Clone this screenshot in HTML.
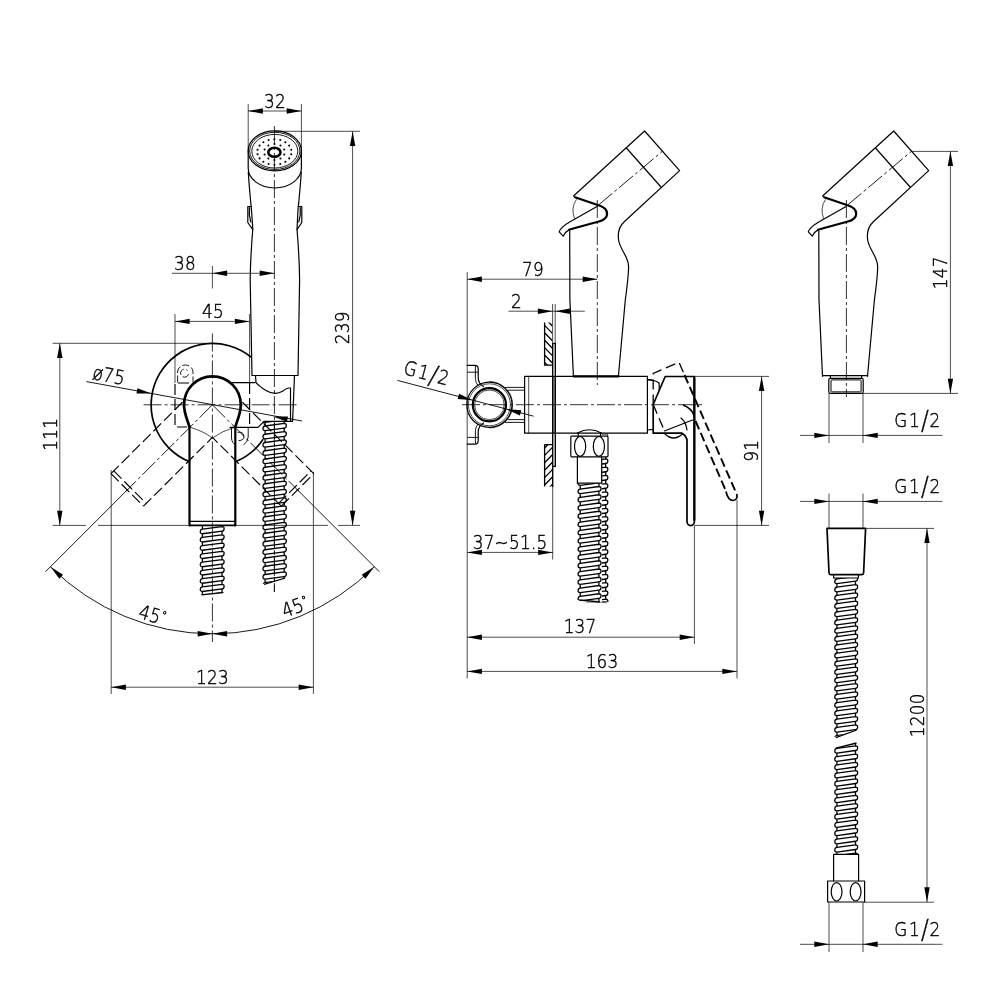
<!DOCTYPE html>
<html lang="en"><head><meta charset="utf-8"><title>Hygienic shower set - dimensional drawing</title>
<style>
html,body{margin:0;padding:0;background:#fff}
svg{display:block;will-change:transform}
text{font-family:"DejaVu Sans Light","DejaVu Sans","Liberation Sans",sans-serif;font-weight:200;font-size:19.6px;letter-spacing:.3px;fill:#000;stroke:#000;stroke-width:.45px}
.t{stroke:#000;stroke-width:.7;fill:none}
.m{stroke:#000;stroke-width:1.2;fill:none;stroke-linejoin:round;stroke-linecap:round}
.k{stroke:#000;stroke-width:2.2;fill:none;stroke-linejoin:round;stroke-linecap:round}
.k2{stroke:#000;stroke-width:2.7;fill:none;stroke-linejoin:round}
.dh{stroke:#000;stroke-width:.9;fill:none;stroke-dasharray:7 2.5}
.o{stroke:#000;stroke-width:1.7;fill:none;stroke-linejoin:round}
.d{stroke:#000;stroke-width:1.15;fill:none;stroke-dasharray:11 4}
.t2{stroke:#000;stroke-width:.9;fill:none}
.dg{font-size:12px}
.sl{font-size:27px}
.dk{stroke:#000;stroke-width:1.9;fill:none;stroke-dasharray:9 4}
.dm{stroke:#000;stroke-width:1.3;fill:none;stroke-dasharray:10 5}
.c{stroke:#000;stroke-width:.8;fill:none;stroke-dasharray:18 3 3 3}
.c2{stroke:#000;stroke-width:.9;fill:none;stroke-dasharray:18 3 3 3}
.pl{stroke:#000;stroke-width:1.35;fill:none}
.a{fill:#000;stroke:none}
.hl{stroke:#000;stroke-width:1.3;fill:none;stroke-linejoin:round}
.he{stroke:#000;stroke-width:1.3;fill:none}
.w{fill:#fff;stroke:none}
</style></head>
<body>
<svg width="1000" height="1000" viewBox="0 0 1000 1000">
<rect class="w" width="1000" height="1000"/>
<g id="front-view">
<path class="d" d="M111,473.67L183.41,401.26"/>
<path class="d" d="M143.53,506.2L212.4,437.33"/>
<path class="d" d="M111,473.67L143.53,506.2"/>
<path class="d" d="M113.76,470.91L146.29,503.44"/>
<path class="c2" d="M212.4,404.8L125.85,491.35"/>
<path class="t2" d="M127.97,489.23L45.52,571.68"/>
<path class="d" d="M313.8,473.67L241.39,401.26"/>
<path class="d" d="M281.27,506.2L212.4,437.33"/>
<path class="d" d="M281.27,506.2L313.8,473.67"/>
<path class="d" d="M278.51,503.44L311.04,470.91"/>
<path class="c2" d="M212.4,404.8L298.95,491.35"/>
<path class="t2" d="M296.83,489.23L379.28,571.68"/>
<path class="t" d="M212.4,266L212.4,288.5"/>
<path class="c" d="M212.4,333.5L212.4,642"/>
<path class="c" d="M143.6,404.8L297,404.8"/>
<path class="c" d="M274.4,126L274.4,592"/>
<clipPath id="h1"><path d="M198.3,525.4L226.1,525.4L226.1,592.6L198.3,594.8Z"/></clipPath>
<g clip-path="url(#h1)">
<path class="hl" d="M202.4,512.65L222,510.1Q224.3,510.1 224.1,512.4T222,514.7L202.4,517.25Q200.1,517.25 200.3,514.95T202.4,512.65ZM202.4,517.25V520.9M222,514.7V518.35M202.4,520.9L222,518.35Q224.3,518.35 224.1,520.65T222,522.95L202.4,525.5Q200.1,525.5 200.3,523.2T202.4,520.9ZM202.4,525.5V529.15M222,522.95V526.6M202.4,529.15L222,526.6Q224.3,526.6 224.1,528.9T222,531.2L202.4,533.75Q200.1,533.75 200.3,531.45T202.4,529.15ZM202.4,533.75V537.4M222,531.2V534.85M202.4,537.4L222,534.85Q224.3,534.85 224.1,537.15T222,539.45L202.4,542Q200.1,542 200.3,539.7T202.4,537.4ZM202.4,542V545.65M222,539.45V543.1M202.4,545.65L222,543.1Q224.3,543.1 224.1,545.4T222,547.7L202.4,550.25Q200.1,550.25 200.3,547.95T202.4,545.65ZM202.4,550.25V553.9M222,547.7V551.35M202.4,553.9L222,551.35Q224.3,551.35 224.1,553.65T222,555.95L202.4,558.5Q200.1,558.5 200.3,556.2T202.4,553.9ZM202.4,558.5V562.15M222,555.95V559.6M202.4,562.15L222,559.6Q224.3,559.6 224.1,561.9T222,564.2L202.4,566.75Q200.1,566.75 200.3,564.45T202.4,562.15ZM202.4,566.75V570.4M222,564.2V567.85M202.4,570.4L222,567.85Q224.3,567.85 224.1,570.15T222,572.45L202.4,575Q200.1,575 200.3,572.7T202.4,570.4ZM202.4,575V578.65M222,572.45V576.1M202.4,578.65L222,576.1Q224.3,576.1 224.1,578.4T222,580.7L202.4,583.25Q200.1,583.25 200.3,580.95T202.4,578.65ZM202.4,583.25V586.9M222,580.7V584.35M202.4,586.9L222,584.35Q224.3,584.35 224.1,586.65T222,588.95L202.4,591.5Q200.1,591.5 200.3,589.2T202.4,586.9ZM202.4,591.5V595.15M222,588.95V592.6M202.4,595.15L222,592.6Q224.3,592.6 224.1,594.9T222,597.2L202.4,599.75Q200.1,599.75 200.3,597.45T202.4,595.15ZM202.4,599.75V603.4M222,597.2V600.85M202.4,603.4L222,600.85Q224.3,600.85 224.1,603.15T222,605.45L202.4,608Q200.1,608 200.3,605.7T202.4,603.4ZM202.4,608V611.65M222,605.45V609.1"/>
</g>
<path class="hl" d="M201.35,594.8L223.05,592.6"/>
<path class="c" d="M274.4,421L274.4,592"/>
<clipPath id="h2"><path d="M261,421.5L288.3,421.5L288.3,578L261,584.3Z"/></clipPath>
<g clip-path="url(#h2)">
<path class="hl" d="M265.1,409.49L284.2,406.95Q286.5,406.95 286.3,409.25T284.2,411.55L265.1,414.09Q262.8,414.09 263,411.79T265.1,409.49ZM265.1,414.09V417.74M284.2,411.55V415.2M265.1,417.74L284.2,415.2Q286.5,415.2 286.3,417.5T284.2,419.8L265.1,422.34Q262.8,422.34 263,420.04T265.1,417.74ZM265.1,422.34V425.99M284.2,419.8V423.45M265.1,425.99L284.2,423.45Q286.5,423.45 286.3,425.75T284.2,428.05L265.1,430.59Q262.8,430.59 263,428.29T265.1,425.99ZM265.1,430.59V434.24M284.2,428.05V431.7M265.1,434.24L284.2,431.7Q286.5,431.7 286.3,434T284.2,436.3L265.1,438.84Q262.8,438.84 263,436.54T265.1,434.24ZM265.1,438.84V442.49M284.2,436.3V439.95M265.1,442.49L284.2,439.95Q286.5,439.95 286.3,442.25T284.2,444.55L265.1,447.09Q262.8,447.09 263,444.79T265.1,442.49ZM265.1,447.09V450.74M284.2,444.55V448.2M265.1,450.74L284.2,448.2Q286.5,448.2 286.3,450.5T284.2,452.8L265.1,455.34Q262.8,455.34 263,453.04T265.1,450.74ZM265.1,455.34V458.99M284.2,452.8V456.45M265.1,458.99L284.2,456.45Q286.5,456.45 286.3,458.75T284.2,461.05L265.1,463.59Q262.8,463.59 263,461.29T265.1,458.99ZM265.1,463.59V467.24M284.2,461.05V464.7M265.1,467.24L284.2,464.7Q286.5,464.7 286.3,467T284.2,469.3L265.1,471.84Q262.8,471.84 263,469.54T265.1,467.24ZM265.1,471.84V475.49M284.2,469.3V472.95M265.1,475.49L284.2,472.95Q286.5,472.95 286.3,475.25T284.2,477.55L265.1,480.09Q262.8,480.09 263,477.79T265.1,475.49ZM265.1,480.09V483.74M284.2,477.55V481.2M265.1,483.74L284.2,481.2Q286.5,481.2 286.3,483.5T284.2,485.8L265.1,488.34Q262.8,488.34 263,486.04T265.1,483.74ZM265.1,488.34V491.99M284.2,485.8V489.45M265.1,491.99L284.2,489.45Q286.5,489.45 286.3,491.75T284.2,494.05L265.1,496.59Q262.8,496.59 263,494.29T265.1,491.99ZM265.1,496.59V500.24M284.2,494.05V497.7M265.1,500.24L284.2,497.7Q286.5,497.7 286.3,500T284.2,502.3L265.1,504.84Q262.8,504.84 263,502.54T265.1,500.24ZM265.1,504.84V508.49M284.2,502.3V505.95M265.1,508.49L284.2,505.95Q286.5,505.95 286.3,508.25T284.2,510.55L265.1,513.09Q262.8,513.09 263,510.79T265.1,508.49ZM265.1,513.09V516.74M284.2,510.55V514.2M265.1,516.74L284.2,514.2Q286.5,514.2 286.3,516.5T284.2,518.8L265.1,521.34Q262.8,521.34 263,519.04T265.1,516.74ZM265.1,521.34V524.99M284.2,518.8V522.45M265.1,524.99L284.2,522.45Q286.5,522.45 286.3,524.75T284.2,527.05L265.1,529.59Q262.8,529.59 263,527.29T265.1,524.99ZM265.1,529.59V533.24M284.2,527.05V530.7M265.1,533.24L284.2,530.7Q286.5,530.7 286.3,533T284.2,535.3L265.1,537.84Q262.8,537.84 263,535.54T265.1,533.24ZM265.1,537.84V541.49M284.2,535.3V538.95M265.1,541.49L284.2,538.95Q286.5,538.95 286.3,541.25T284.2,543.55L265.1,546.09Q262.8,546.09 263,543.79T265.1,541.49ZM265.1,546.09V549.74M284.2,543.55V547.2M265.1,549.74L284.2,547.2Q286.5,547.2 286.3,549.5T284.2,551.8L265.1,554.34Q262.8,554.34 263,552.04T265.1,549.74ZM265.1,554.34V557.99M284.2,551.8V555.45M265.1,557.99L284.2,555.45Q286.5,555.45 286.3,557.75T284.2,560.05L265.1,562.59Q262.8,562.59 263,560.29T265.1,557.99ZM265.1,562.59V566.24M284.2,560.05V563.7M265.1,566.24L284.2,563.7Q286.5,563.7 286.3,566T284.2,568.3L265.1,570.84Q262.8,570.84 263,568.54T265.1,566.24ZM265.1,570.84V574.49M284.2,568.3V571.95M265.1,574.49L284.2,571.95Q286.5,571.95 286.3,574.25T284.2,576.55L265.1,579.09Q262.8,579.09 263,576.79T265.1,574.49ZM265.1,579.09V582.74M284.2,576.55V580.2M265.1,582.74L284.2,580.2Q286.5,580.2 286.3,582.5T284.2,584.8L265.1,587.34Q262.8,587.34 263,585.04T265.1,582.74ZM265.1,587.34V590.99M284.2,584.8V588.45M265.1,590.99L284.2,588.45Q286.5,588.45 286.3,590.75T284.2,593.05L265.1,595.59Q262.8,595.59 263,593.29T265.1,590.99ZM265.1,595.59V599.24M284.2,593.05V596.7"/>
</g>
<path class="hl" d="M264.05,584.3L285.25,578"/>
<path class="o" d="M189.5,461.8A61.4,61.4 0 1 1 251.2,357.2"/>
<path class="o" d="M263.2,439.3A61.4,61.4 0 0 1 235.3,461.8"/>
<path class="k" d="M189.5,525.4V426.5M235.3,426.5V525.4"/>
<path class="k2" d="M189.5,427.5C189,423 184,415 184,404.8A28.4,28.5 0 0 1 240.8,404.8C240.8,415 235.8,423 235.3,427.5"/>
<path class="o" d="M189.5,525.4H235.3"/>
<path class="m" d="M189.5,521.4L235.3,521.4"/>
<path class="t" d="M189.5,427Q203,431 212.4,438Q222,431 235.3,427"/>
<path class="d" d="M189,383H175V427H187"/>
<path class="m" d="M232,382.6H255"/>
<path class="d" d="M249.6,383L249.6,427"/>
<path class="m" d="M230,427.4H258L264,421.4H290.5"/>
<path class="dh" d="M177.6,382.5V372A7.7,7 0 0 1 193,372V382.5"/>
<path class="dh" d="M188.4,374.2A4,4 0 1 1 187.6,370.6"/>
<path class="t2" d="M231.5,427.5V438Q232,443.5 235.5,444.5M248.2,427.5V437Q247.6,442.5 243.5,444.8"/>
<path class="t2" d="M237.5,432.4Q243,431 244,436Q244.2,440.5 238.5,440.6"/>
<ellipse class="m" cx="274.8" cy="150.9" rx="26.6" ry="20"/>
<ellipse class="t2" cx="274.8" cy="150.9" rx="25.1" ry="18.6"/>
<ellipse class="t2" cx="274.8" cy="151.2" rx="23" ry="16.8"/>
<ellipse cx="274.4" cy="152.3" rx="6.1" ry="4.5" fill="none" stroke="#000" stroke-width="2.6"/>
<circle class="a" cx="274.4" cy="139.2" r="1.05"/>
<circle class="a" cx="280.25" cy="139.97" r="1.05"/>
<circle class="a" cx="285.39" cy="142.19" r="1.05"/>
<circle class="a" cx="289.21" cy="145.6" r="1.05"/>
<circle class="a" cx="291.24" cy="149.78" r="1.05"/>
<circle class="a" cx="291.24" cy="154.22" r="1.05"/>
<circle class="a" cx="289.21" cy="158.4" r="1.05"/>
<circle class="a" cx="285.39" cy="161.81" r="1.05"/>
<circle class="a" cx="280.25" cy="164.03" r="1.05"/>
<circle class="a" cx="274.4" cy="164.8" r="1.05"/>
<circle class="a" cx="268.55" cy="164.03" r="1.05"/>
<circle class="a" cx="263.41" cy="161.81" r="1.05"/>
<circle class="a" cx="259.59" cy="158.4" r="1.05"/>
<circle class="a" cx="257.56" cy="154.22" r="1.05"/>
<circle class="a" cx="257.56" cy="149.78" r="1.05"/>
<circle class="a" cx="259.59" cy="145.6" r="1.05"/>
<circle class="a" cx="263.41" cy="142.19" r="1.05"/>
<circle class="a" cx="268.55" cy="139.97" r="1.05"/>
<circle class="a" cx="274.4" cy="144" r="1.05"/>
<circle class="a" cx="280.45" cy="145.53" r="1.05"/>
<circle class="a" cx="284.2" cy="149.53" r="1.05"/>
<circle class="a" cx="284.2" cy="154.47" r="1.05"/>
<circle class="a" cx="280.45" cy="158.47" r="1.05"/>
<circle class="a" cx="274.4" cy="160" r="1.05"/>
<circle class="a" cx="268.35" cy="158.47" r="1.05"/>
<circle class="a" cx="264.6" cy="154.47" r="1.05"/>
<circle class="a" cx="264.6" cy="149.53" r="1.05"/>
<circle class="a" cx="268.35" cy="145.53" r="1.05"/>
<path class="m" d="M248.2,151V168A26.6,20 0 0 0 301.4,168V151"/>
<path class="m" d="M248.3,172C249,185 250.5,200 251.5,210L252.8,229C251.5,245 250.3,260 250.2,280L252,375.5H298L299.6,280C299.5,260 298.3,245 297,229L298,210C299,200 300.5,185 301.3,172"/>
<path class="m" d="M251.3,206.5H247.8V222.5L252.6,229.3M249.5,207.5Q248.6,215 250.8,222"/>
<path class="m" d="M298.2,206.5H301.8V222.5L297.2,229.3M300.2,207.5Q301,215 298.8,222"/>
<path class="m" d="M255.5,375.5L256,382.6C259,386 262,388 266,390.5Q275,396 283,391Q287,388 289,388H290.5V421.3M294.5,375.5L292.6,421.3H290.5"/>
<path class="t" d="M248.2,104L248.2,151"/>
<path class="t" d="M301.4,104L301.4,151"/>
<path class="t" d="M248.2,111L301.4,111"/>
<path class="a" d="M248.2,111L262.9,108.3L262.9,113.7Z"/>
<path class="a" d="M301.4,111L286.7,113.7L286.7,108.3Z"/>
<text transform="translate(275.1 108) scale(0.86 1)" text-anchor="middle">32</text>
<path class="t" d="M274.4,131.3L360,131.3"/>
<path class="t" d="M352.6,131.3L352.6,525.4"/>
<path class="a" d="M352.6,131.3L355.3,146L349.9,146Z"/>
<path class="a" d="M352.6,525.4L349.9,510.7L355.3,510.7Z"/>
<text transform="translate(349.1 327.8) rotate(-90) scale(0.86 1)" text-anchor="middle">239</text>
<path class="t" d="M52.6,525.4L86,525.4"/>
<path class="t" d="M98,525.4L189.5,525.4"/>
<path class="t" d="M235.3,525.4L328,525.4"/>
<path class="t" d="M338,525.4L360,525.4"/>
<path class="t" d="M52.6,343.3L205,343.3"/>
<path class="t" d="M59.8,343.3L59.8,525.4"/>
<path class="a" d="M59.8,343.3L62.5,358L57.1,358Z"/>
<path class="a" d="M59.8,525.4L57.1,510.7L62.5,510.7Z"/>
<text transform="translate(56.7 434.2) rotate(-90) scale(0.86 1)" text-anchor="middle">111</text>
<path class="t" d="M172,273.3L274.4,273.3"/>
<path class="a" d="M212.4,273.3L227.1,270.6L227.1,276Z"/>
<path class="a" d="M274.4,273.3L259.7,276L259.7,270.6Z"/>
<text transform="translate(184.9 269.5) scale(0.86 1)" text-anchor="middle">38</text>
<path class="t" d="M175,314L175,383"/>
<path class="t" d="M249.6,314L249.6,382"/>
<path class="t" d="M175,321.4L249.6,321.4"/>
<path class="a" d="M175,321.4L189.7,318.7L189.7,324.1Z"/>
<path class="a" d="M249.6,321.4L234.9,324.1L234.9,318.7Z"/>
<text transform="translate(213.1 317.8) scale(0.86 1)" text-anchor="middle">45</text>
<path class="t2" d="M86.4,381.6L302,421"/>
<path class="a" d="M151.4,393.5L136.45,393.51L137.42,388.2Z"/>
<path class="a" d="M273,416.4L287.95,416.39L286.98,421.7Z"/>
<text transform="translate(107.7 382) rotate(10.36) scale(0.86 1)" text-anchor="middle">ø75</text>
<path class="t2" d="M50.47,566.73A229,229 0 0 0 374.33,566.73"/>
<path class="a" d="M50.47,566.73L63.04,574.82L59.34,578.76Z"/>
<path class="a" d="M374.33,566.73L365.46,578.76L361.76,574.82Z"/>
<path class="a" d="M212.4,633.8L197.7,636.5L197.7,631.1Z"/>
<path class="a" d="M212.4,633.8L227.1,631.1L227.1,636.5Z"/>
<text transform="translate(150.7 621.6) rotate(16.5) scale(0.86 1)" text-anchor="middle">45<tspan class="dg" dy="-5.5">°</tspan></text>
<text transform="translate(297.6 613) rotate(-20) scale(0.86 1)" text-anchor="middle">45<tspan class="dg" dy="-5.5">°</tspan></text>
<path class="t" d="M111.2,470L111.2,694"/>
<path class="t" d="M313.4,472L313.4,694"/>
<path class="t" d="M111.2,687.2L313.4,687.2"/>
<path class="a" d="M111.2,687.2L125.9,684.5L125.9,689.9Z"/>
<path class="a" d="M313.4,687.2L298.7,689.9L298.7,684.5Z"/>
<text transform="translate(212.5 683.6) scale(0.86 1)" text-anchor="middle">123</text>
</g>
<g id="side-view">
<path class="t" d="M467.2,272L467.2,678.4"/>
<path class="t" d="M552.6,304L552.6,343.5"/>
<path class="t" d="M555.2,304L555.2,343.5"/>
<clipPath id="x132"><rect x="544.6" y="322.6" width="7.8" height="42.6"/></clipPath>
<path class="hl" clip-path="url(#x132)" d="M544.6,310.6L552.4,318.6M544.6,318L552.4,326M544.6,325.4L552.4,333.4M544.6,332.8L552.4,340.8M544.6,340.2L552.4,348.2M544.6,347.6L552.4,355.6M544.6,355L552.4,363M544.6,362.4L552.4,370.4"/>
<path class="hl" d="M544.6,322.6V365.2H552.4"/>
<clipPath id="x135"><rect x="544.6" y="444.6" width="7.8" height="41.8"/></clipPath>
<path class="hl" clip-path="url(#x135)" d="M544.6,440.6L552.4,432.6M544.6,448L552.4,440M544.6,455.4L552.4,447.4M544.6,462.8L552.4,454.8M544.6,470.2L552.4,462.2M544.6,477.6L552.4,469.6M544.6,485L552.4,477M544.6,492.4L552.4,484.4"/>
<path class="hl" d="M552.4,444.6H544.6V486.4"/>
<path class="t" d="M552.7,486L552.7,559.6"/>
<path class="pl" d="M552.7,343.5V487M555.3,343.5V466.4H552.7"/>
<path class="hl" d="M552.2,343.5L556,343.5"/>
<path class="m" d="M467.2,365.4H475Q478.2,365.4 478.2,369V378Q478.4,383.5 483.5,386.5"/>
<path class="m" d="M467.2,444.2H475Q478.2,444.2 478.2,440.6V431.6Q478.4,426 483.5,423"/>
<path class="t2" d="M467.2,372.2H478M475.4,366V378.5Q475.6,383 478,385.4M467.2,437.4H478M475.4,443.6V431.1Q475.6,426.6 478,424.2"/>
<circle class="m" cx="489.4" cy="404.8" r="22.6"/>
<path class="t" d="M489.4,381.6A23.2,23.2 0 0 1 489.4,428"/>
<circle class="t" cx="489.4" cy="404.8" r="21"/>
<circle class="k" cx="489.4" cy="404.8" r="16.6"/>
<circle class="t" cx="489.4" cy="404.8" r="14.8"/>
<path class="t2" d="M505,387.4H524.6M507.5,390.2H524.6M507.5,419.6H524.6M505,422.4H524.6"/>
<path class="m" d="M524.6,376.3H647.4V433.2H524.6Z"/>
<path class="t" d="M528.7,376.3L528.7,433.2"/>
<path class="pl" d="M552.7,376V434M555.3,376V434"/>
<path class="c" d="M462,404.7L703,404.7"/>
<g transform="translate(0 0)">
<path class="m" d="M573.5,196L644.6,131L679.6,170.6L624.5,221.5C619.5,226 617.6,233 618.6,240C620,250 628.6,256 628.6,267C628.2,280 626.6,290 625.3,300L618.4,376.3"/>
<path class="m" d="M626.4,148L661,187"/>
<path class="m" d="M569.7,231L569.9,300L573.4,376.3"/>
<path class="t" d="M576.5,199.3Q570.5,208 574.6,218.8"/>
<path class="m" d="M597,206.6L570.5,221.6Q561,227 559.2,231.8L563.2,236.2Q565.5,231.5 569.2,229.6"/>
<path class="k" d="M575,197.2L597,204.8C603.5,206.5 607.2,209.5 607.1,214C607,218.5 603,220.6 598,221.8L575,228L569,229.7"/>
<path class="c" d="M597.3,200L597.3,385"/>
<path class="c2" d="M598.5,205L662.5,151.2"/>
</g>
<path class="k" d="M573.6,376.3H618.6"/>
<clipPath id="h3"><path d="M583,457.1L609.8,457.1L609.8,602L583,602Z"/></clipPath>
<g clip-path="url(#h3)">
<path class="hl" d="M587.1,444.93L605.7,442.4Q608,442.4 607.8,444.7T605.7,447L587.1,449.53Q584.8,449.53 585,447.23T587.1,444.93ZM587.1,449.53V453.18M605.7,447V450.65M587.1,453.18L605.7,450.65Q608,450.65 607.8,452.95T605.7,455.25L587.1,457.78Q584.8,457.78 585,455.48T587.1,453.18ZM587.1,457.78V461.43M605.7,455.25V458.9M587.1,461.43L605.7,458.9Q608,458.9 607.8,461.2T605.7,463.5L587.1,466.03Q584.8,466.03 585,463.73T587.1,461.43ZM587.1,466.03V469.68M605.7,463.5V467.15M587.1,469.68L605.7,467.15Q608,467.15 607.8,469.45T605.7,471.75L587.1,474.28Q584.8,474.28 585,471.98T587.1,469.68ZM587.1,474.28V477.93M605.7,471.75V475.4M587.1,477.93L605.7,475.4Q608,475.4 607.8,477.7T605.7,480L587.1,482.53Q584.8,482.53 585,480.23T587.1,477.93ZM587.1,482.53V486.18M605.7,480V483.65M587.1,486.18L605.7,483.65Q608,483.65 607.8,485.95T605.7,488.25L587.1,490.78Q584.8,490.78 585,488.48T587.1,486.18ZM587.1,490.78V494.43M605.7,488.25V491.9M587.1,494.43L605.7,491.9Q608,491.9 607.8,494.2T605.7,496.5L587.1,499.03Q584.8,499.03 585,496.73T587.1,494.43ZM587.1,499.03V502.68M605.7,496.5V500.15M587.1,502.68L605.7,500.15Q608,500.15 607.8,502.45T605.7,504.75L587.1,507.28Q584.8,507.28 585,504.98T587.1,502.68ZM587.1,507.28V510.93M605.7,504.75V508.4M587.1,510.93L605.7,508.4Q608,508.4 607.8,510.7T605.7,513L587.1,515.53Q584.8,515.53 585,513.23T587.1,510.93ZM587.1,515.53V519.18M605.7,513V516.65M587.1,519.18L605.7,516.65Q608,516.65 607.8,518.95T605.7,521.25L587.1,523.78Q584.8,523.78 585,521.48T587.1,519.18ZM587.1,523.78V527.43M605.7,521.25V524.9M587.1,527.43L605.7,524.9Q608,524.9 607.8,527.2T605.7,529.5L587.1,532.03Q584.8,532.03 585,529.73T587.1,527.43ZM587.1,532.03V535.68M605.7,529.5V533.15M587.1,535.68L605.7,533.15Q608,533.15 607.8,535.45T605.7,537.75L587.1,540.28Q584.8,540.28 585,537.98T587.1,535.68ZM587.1,540.28V543.93M605.7,537.75V541.4M587.1,543.93L605.7,541.4Q608,541.4 607.8,543.7T605.7,546L587.1,548.53Q584.8,548.53 585,546.23T587.1,543.93ZM587.1,548.53V552.18M605.7,546V549.65M587.1,552.18L605.7,549.65Q608,549.65 607.8,551.95T605.7,554.25L587.1,556.78Q584.8,556.78 585,554.48T587.1,552.18ZM587.1,556.78V560.43M605.7,554.25V557.9M587.1,560.43L605.7,557.9Q608,557.9 607.8,560.2T605.7,562.5L587.1,565.03Q584.8,565.03 585,562.73T587.1,560.43ZM587.1,565.03V568.68M605.7,562.5V566.15M587.1,568.68L605.7,566.15Q608,566.15 607.8,568.45T605.7,570.75L587.1,573.28Q584.8,573.28 585,570.98T587.1,568.68ZM587.1,573.28V576.93M605.7,570.75V574.4M587.1,576.93L605.7,574.4Q608,574.4 607.8,576.7T605.7,579L587.1,581.53Q584.8,581.53 585,579.23T587.1,576.93ZM587.1,581.53V585.18M605.7,579V582.65M587.1,585.18L605.7,582.65Q608,582.65 607.8,584.95T605.7,587.25L587.1,589.78Q584.8,589.78 585,587.48T587.1,585.18ZM587.1,589.78V593.43M605.7,587.25V590.9M587.1,593.43L605.7,590.9Q608,590.9 607.8,593.2T605.7,595.5L587.1,598.03Q584.8,598.03 585,595.73T587.1,593.43ZM587.1,598.03V601.68M605.7,595.5V599.15M587.1,601.68L605.7,599.15Q608,599.15 607.8,601.45T605.7,603.75L587.1,606.28Q584.8,606.28 585,603.98T587.1,601.68ZM587.1,606.28V609.93M605.7,603.75V607.4M587.1,609.93L605.7,607.4Q608,607.4 607.8,609.7T605.7,612L587.1,614.53Q584.8,614.53 585,612.23T587.1,609.93ZM587.1,614.53V618.18M605.7,612V615.65"/>
</g>
<path class="hl" d="M586.05,602L606.75,602"/>
<path class="w" d="M576.6,456H601.9V602.6H576.6Z"/>
<path class="m" d="M577.4,456.8V483.2H601.7V456.8"/>
<clipPath id="h4"><path d="M576.1,483.2L603,483.2L603,602L576.1,600Z"/></clipPath>
<g clip-path="url(#h4)">
<path class="hl" d="M580.2,472.53L598.9,470Q601.2,470 601,472.3T598.9,474.6L580.2,477.13Q577.9,477.13 578.1,474.83T580.2,472.53ZM580.2,477.13V480.78M598.9,474.6V478.25M580.2,480.78L598.9,478.25Q601.2,478.25 601,480.55T598.9,482.85L580.2,485.38Q577.9,485.38 578.1,483.08T580.2,480.78ZM580.2,485.38V489.03M598.9,482.85V486.5M580.2,489.03L598.9,486.5Q601.2,486.5 601,488.8T598.9,491.1L580.2,493.63Q577.9,493.63 578.1,491.33T580.2,489.03ZM580.2,493.63V497.28M598.9,491.1V494.75M580.2,497.28L598.9,494.75Q601.2,494.75 601,497.05T598.9,499.35L580.2,501.88Q577.9,501.88 578.1,499.58T580.2,497.28ZM580.2,501.88V505.53M598.9,499.35V503M580.2,505.53L598.9,503Q601.2,503 601,505.3T598.9,507.6L580.2,510.13Q577.9,510.13 578.1,507.83T580.2,505.53ZM580.2,510.13V513.78M598.9,507.6V511.25M580.2,513.78L598.9,511.25Q601.2,511.25 601,513.55T598.9,515.85L580.2,518.38Q577.9,518.38 578.1,516.08T580.2,513.78ZM580.2,518.38V522.03M598.9,515.85V519.5M580.2,522.03L598.9,519.5Q601.2,519.5 601,521.8T598.9,524.1L580.2,526.63Q577.9,526.63 578.1,524.33T580.2,522.03ZM580.2,526.63V530.28M598.9,524.1V527.75M580.2,530.28L598.9,527.75Q601.2,527.75 601,530.05T598.9,532.35L580.2,534.88Q577.9,534.88 578.1,532.58T580.2,530.28ZM580.2,534.88V538.53M598.9,532.35V536M580.2,538.53L598.9,536Q601.2,536 601,538.3T598.9,540.6L580.2,543.13Q577.9,543.13 578.1,540.83T580.2,538.53ZM580.2,543.13V546.78M598.9,540.6V544.25M580.2,546.78L598.9,544.25Q601.2,544.25 601,546.55T598.9,548.85L580.2,551.38Q577.9,551.38 578.1,549.08T580.2,546.78ZM580.2,551.38V555.03M598.9,548.85V552.5M580.2,555.03L598.9,552.5Q601.2,552.5 601,554.8T598.9,557.1L580.2,559.63Q577.9,559.63 578.1,557.33T580.2,555.03ZM580.2,559.63V563.28M598.9,557.1V560.75M580.2,563.28L598.9,560.75Q601.2,560.75 601,563.05T598.9,565.35L580.2,567.88Q577.9,567.88 578.1,565.58T580.2,563.28ZM580.2,567.88V571.53M598.9,565.35V569M580.2,571.53L598.9,569Q601.2,569 601,571.3T598.9,573.6L580.2,576.13Q577.9,576.13 578.1,573.83T580.2,571.53ZM580.2,576.13V579.78M598.9,573.6V577.25M580.2,579.78L598.9,577.25Q601.2,577.25 601,579.55T598.9,581.85L580.2,584.38Q577.9,584.38 578.1,582.08T580.2,579.78ZM580.2,584.38V588.03M598.9,581.85V585.5M580.2,588.03L598.9,585.5Q601.2,585.5 601,587.8T598.9,590.1L580.2,592.63Q577.9,592.63 578.1,590.33T580.2,588.03ZM580.2,592.63V596.28M598.9,590.1V593.75M580.2,596.28L598.9,593.75Q601.2,593.75 601,596.05T598.9,598.35L580.2,600.88Q577.9,600.88 578.1,598.58T580.2,596.28ZM580.2,600.88V604.53M598.9,598.35V602M580.2,604.53L598.9,602Q601.2,602 601,604.3T598.9,606.6L580.2,609.13Q577.9,609.13 578.1,606.83T580.2,604.53ZM580.2,609.13V612.78M598.9,606.6V610.25"/>
</g>
<path class="hl" d="M579.15,600L599.95,602"/>
<path class="m" d="M577.4,433.1Q589.4,426.4 601.4,433.1M578.3,433.4V436M600.5,433.4V436"/>
<path class="t" d="M601.6,434.2H607.6V436"/>
<rect class="m" x="570.8" y="436.1" width="37.2" height="20.7" rx="1"/>
<ellipse class="m" cx="580.1" cy="446.4" rx="5.6" ry="9.9"/>
<ellipse class="m" cx="598.9" cy="446.4" rx="5.6" ry="9.9"/>
<path class="m" d="M647.4,379.6L653.2,380.4M647.4,430L653.2,429.4"/>
<path class="m" d="M647.6,379.6Q655.5,380 659.2,383.2V390.5"/>
<path class="o" d="M653.2,404.5V433.2H682C685,435 687,437 687,441V521.6A3.7,4 0 0 0 694.4,521.6V376.5H665.2L653.2,404.5"/>
<path class="k" d="M694.3,378L694.3,520"/>
<path class="o" d="M683,405Q691.5,408 694.2,416"/>
<path class="m" d="M681,418Q686,422 687,430"/>
<path class="m" d="M664.5,431L692.5,420"/>
<path class="m" d="M665,434Q673.5,442 682.5,434"/>
<path class="dm" d="M653.2,404.5V373.5L679,362.2L684.5,375"/>
<path class="dm" d="M653.2,404.5L664.5,431"/>
<path class="dk" d="M684.5,375L736.8,494.4"/>
<path class="dk" d="M695.5,421L726.2,491.6"/>
<path class="o" d="M726,491.5Q728,500.5 733,500.5Q738,500 736.8,494"/>
<path class="t" d="M467.2,279.2L597.4,279.2"/>
<path class="a" d="M467.2,279.2L481.9,276.5L481.9,281.9Z"/>
<path class="a" d="M597.4,279.2L582.7,281.9L582.7,276.5Z"/>
<text transform="translate(533.1 275.8) scale(0.86 1)" text-anchor="middle">79</text>
<path class="t" d="M508.5,311.2L584.8,311.2"/>
<path class="a" d="M552.6,311.2L537.9,313.9L537.9,308.5Z"/>
<path class="a" d="M555.2,311.2L569.9,308.5L569.9,313.9Z"/>
<text transform="translate(516.5 307.8) scale(0.86 1)" text-anchor="middle">2</text>
<path class="t2" d="M397.4,380.4L533.6,416.2"/>
<path class="a" d="M472.6,400.2L457.7,399.07L459.07,393.85Z"/>
<path class="a" d="M506.4,409.2L521.3,410.33L519.93,415.55Z"/>
<text transform="translate(424.8 379.6) rotate(14.73) scale(0.86 1)" text-anchor="middle">G<tspan dx="1.6">1</tspan><tspan class="sl" dx="1.2" dy="2.8">/</tspan><tspan dx="0.6" dy="-2.8">2</tspan></text>
<path class="t" d="M467.2,552.4L553,552.4"/>
<path class="a" d="M467.2,552.4L481.9,549.7L481.9,555.1Z"/>
<path class="a" d="M552.8,552.4L538.1,555.1L538.1,549.7Z"/>
<text transform="translate(510.1 548.8) scale(0.86 1)" text-anchor="middle">37~51.5</text>
<path class="t" d="M694.4,525.4L694.4,644"/>
<path class="t" d="M467.2,637.2L694.4,637.2"/>
<path class="a" d="M467.2,637.2L481.9,634.5L481.9,639.9Z"/>
<path class="a" d="M694.4,637.2L679.7,639.9L679.7,634.5Z"/>
<text transform="translate(580.1 633.4) scale(0.86 1)" text-anchor="middle">137</text>
<path class="t" d="M737,500L737,678.4"/>
<path class="t" d="M467.2,671.4L737,671.4"/>
<path class="a" d="M467.2,671.4L481.9,668.7L481.9,674.1Z"/>
<path class="a" d="M737,671.4L722.3,674.1L722.3,668.7Z"/>
<text transform="translate(602.1 667.5) scale(0.86 1)" text-anchor="middle">163</text>
<path class="t" d="M694.4,376.4L769,376.4"/>
<path class="t" d="M694.4,525.4L769,525.4"/>
<path class="t" d="M761.6,376.4L761.6,525.4"/>
<path class="a" d="M761.6,376.4L764.3,391.1L758.9,391.1Z"/>
<path class="a" d="M761.6,525.4L758.9,510.7L764.3,510.7Z"/>
<text transform="translate(758.3 450.8) rotate(-90) scale(0.86 1)" text-anchor="middle">91</text>
</g>
<g id="parts">
<g transform="translate(249.1 0)">
<path class="m" d="M573.5,196L644.6,131L679.6,170.6L624.5,221.5C619.5,226 617.6,233 618.6,240C620,250 628.6,256 628.6,267C628.2,280 626.6,290 625.3,300L618.4,376.3"/>
<path class="m" d="M626.4,148L661,187"/>
<path class="m" d="M569.7,231L569.9,300L573.4,376.3"/>
<path class="t" d="M576.5,199.3Q570.5,208 574.6,218.8"/>
<path class="m" d="M597,206.6L570.5,221.6Q561,227 559.2,231.8L563.2,236.2Q565.5,231.5 569.2,229.6"/>
<path class="k" d="M575,197.2L597,204.8C603.5,206.5 607.2,209.5 607.1,214C607,218.5 603,220.6 598,221.8L575,228L569,229.7"/>
<path class="c" d="M597.3,200L597.3,397"/>
<path class="c2" d="M598.5,205L662.5,151.2"/>
</g>
<path class="m" d="M822.7,375.7H867.7"/>
<path class="m" d="M830.4,375.6V378.4M861.6,375.6V378.4"/>
<rect class="m" x="828.8" y="378.4" width="34.4" height="15" rx="1.6"/>
<rect class="hl" x="831" y="379.9" width="30.1" height="12" rx="0.6" style="stroke-width:1"/>
<path class="t" d="M911,151.4L958,151.4"/>
<path class="t" d="M863,393.4L958,393.4"/>
<path class="t" d="M950.4,151.4L950.4,393.4"/>
<path class="a" d="M950.4,151.4L953.1,166.1L947.7,166.1Z"/>
<path class="a" d="M950.4,393.4L947.7,378.7L953.1,378.7Z"/>
<text transform="translate(947.1 272.8) rotate(-90) scale(0.86 1)" text-anchor="middle">147</text>
<path class="t" d="M829,393.4L829,443"/>
<path class="t" d="M863,393.4L863,443"/>
<path class="t" d="M800,435.4L942.4,435.4"/>
<path class="a" d="M829,435.4L814.3,438.1L814.3,432.7Z"/>
<path class="a" d="M863,435.4L877.7,432.7L877.7,438.1Z"/>
<text transform="translate(917.4 427.2) scale(0.86 1)" text-anchor="middle">G<tspan dx="1.6">1</tspan><tspan class="sl" dx="1.2" dy="2.8">/</tspan><tspan dx="0.6" dy="-2.8">2</tspan></text>
<path class="t" d="M829,493.6L829,528"/>
<path class="t" d="M863,493.6L863,528"/>
<path class="t" d="M800,501.4L942.4,501.4"/>
<path class="a" d="M829,501.4L814.3,504.1L814.3,498.7Z"/>
<path class="a" d="M863,501.4L877.7,498.7L877.7,504.1Z"/>
<text transform="translate(917.4 492.8) scale(0.86 1)" text-anchor="middle">G<tspan dx="1.6">1</tspan><tspan class="sl" dx="1.2" dy="2.8">/</tspan><tspan dx="0.6" dy="-2.8">2</tspan></text>
<path class="t" d="M829,902.2L829,952"/>
<path class="t" d="M863,902.2L863,952"/>
<path class="t" d="M800,944.3L942.4,944.3"/>
<path class="a" d="M829,944.3L814.3,947L814.3,941.6Z"/>
<path class="a" d="M863,944.3L877.7,941.6L877.7,947Z"/>
<text transform="translate(917.4 936.4) scale(0.86 1)" text-anchor="middle">G<tspan dx="1.6">1</tspan><tspan class="sl" dx="1.2" dy="2.8">/</tspan><tspan dx="0.6" dy="-2.8">2</tspan></text>
<clipPath id="h5"><path d="M832.8,578L859.6,578L859.6,730L832.8,737.6Z"/></clipPath>
<g clip-path="url(#h5)">
<path class="hl" d="M836.9,570.73L855.5,568.2Q857.8,568.2 857.6,570.5T855.5,572.8L836.9,575.33Q834.6,575.33 834.8,573.03T836.9,570.73ZM836.9,575.33V578.98M855.5,572.8V576.45M836.9,578.98L855.5,576.45Q857.8,576.45 857.6,578.75T855.5,581.05L836.9,583.58Q834.6,583.58 834.8,581.28T836.9,578.98ZM836.9,583.58V587.23M855.5,581.05V584.7M836.9,587.23L855.5,584.7Q857.8,584.7 857.6,587T855.5,589.3L836.9,591.83Q834.6,591.83 834.8,589.53T836.9,587.23ZM836.9,591.83V595.48M855.5,589.3V592.95M836.9,595.48L855.5,592.95Q857.8,592.95 857.6,595.25T855.5,597.55L836.9,600.08Q834.6,600.08 834.8,597.78T836.9,595.48ZM836.9,600.08V603.73M855.5,597.55V601.2M836.9,603.73L855.5,601.2Q857.8,601.2 857.6,603.5T855.5,605.8L836.9,608.33Q834.6,608.33 834.8,606.03T836.9,603.73ZM836.9,608.33V611.98M855.5,605.8V609.45M836.9,611.98L855.5,609.45Q857.8,609.45 857.6,611.75T855.5,614.05L836.9,616.58Q834.6,616.58 834.8,614.28T836.9,611.98ZM836.9,616.58V620.23M855.5,614.05V617.7M836.9,620.23L855.5,617.7Q857.8,617.7 857.6,620T855.5,622.3L836.9,624.83Q834.6,624.83 834.8,622.53T836.9,620.23ZM836.9,624.83V628.48M855.5,622.3V625.95M836.9,628.48L855.5,625.95Q857.8,625.95 857.6,628.25T855.5,630.55L836.9,633.08Q834.6,633.08 834.8,630.78T836.9,628.48ZM836.9,633.08V636.73M855.5,630.55V634.2M836.9,636.73L855.5,634.2Q857.8,634.2 857.6,636.5T855.5,638.8L836.9,641.33Q834.6,641.33 834.8,639.03T836.9,636.73ZM836.9,641.33V644.98M855.5,638.8V642.45M836.9,644.98L855.5,642.45Q857.8,642.45 857.6,644.75T855.5,647.05L836.9,649.58Q834.6,649.58 834.8,647.28T836.9,644.98ZM836.9,649.58V653.23M855.5,647.05V650.7M836.9,653.23L855.5,650.7Q857.8,650.7 857.6,653T855.5,655.3L836.9,657.83Q834.6,657.83 834.8,655.53T836.9,653.23ZM836.9,657.83V661.48M855.5,655.3V658.95M836.9,661.48L855.5,658.95Q857.8,658.95 857.6,661.25T855.5,663.55L836.9,666.08Q834.6,666.08 834.8,663.78T836.9,661.48ZM836.9,666.08V669.73M855.5,663.55V667.2M836.9,669.73L855.5,667.2Q857.8,667.2 857.6,669.5T855.5,671.8L836.9,674.33Q834.6,674.33 834.8,672.03T836.9,669.73ZM836.9,674.33V677.98M855.5,671.8V675.45M836.9,677.98L855.5,675.45Q857.8,675.45 857.6,677.75T855.5,680.05L836.9,682.58Q834.6,682.58 834.8,680.28T836.9,677.98ZM836.9,682.58V686.23M855.5,680.05V683.7M836.9,686.23L855.5,683.7Q857.8,683.7 857.6,686T855.5,688.3L836.9,690.83Q834.6,690.83 834.8,688.53T836.9,686.23ZM836.9,690.83V694.48M855.5,688.3V691.95M836.9,694.48L855.5,691.95Q857.8,691.95 857.6,694.25T855.5,696.55L836.9,699.08Q834.6,699.08 834.8,696.78T836.9,694.48ZM836.9,699.08V702.73M855.5,696.55V700.2M836.9,702.73L855.5,700.2Q857.8,700.2 857.6,702.5T855.5,704.8L836.9,707.33Q834.6,707.33 834.8,705.03T836.9,702.73ZM836.9,707.33V710.98M855.5,704.8V708.45M836.9,710.98L855.5,708.45Q857.8,708.45 857.6,710.75T855.5,713.05L836.9,715.58Q834.6,715.58 834.8,713.28T836.9,710.98ZM836.9,715.58V719.23M855.5,713.05V716.7M836.9,719.23L855.5,716.7Q857.8,716.7 857.6,719T855.5,721.3L836.9,723.83Q834.6,723.83 834.8,721.53T836.9,719.23ZM836.9,723.83V727.48M855.5,721.3V724.95M836.9,727.48L855.5,724.95Q857.8,724.95 857.6,727.25T855.5,729.55L836.9,732.08Q834.6,732.08 834.8,729.78T836.9,727.48ZM836.9,732.08V735.73M855.5,729.55V733.2M836.9,735.73L855.5,733.2Q857.8,733.2 857.6,735.5T855.5,737.8L836.9,740.33Q834.6,740.33 834.8,738.03T836.9,735.73ZM836.9,740.33V743.98M855.5,737.8V741.45M836.9,743.98L855.5,741.45Q857.8,741.45 857.6,743.75T855.5,746.05L836.9,748.58Q834.6,748.58 834.8,746.28T836.9,743.98ZM836.9,748.58V752.23M855.5,746.05V749.7"/>
</g>
<path class="hl" d="M835.85,737.6L856.55,730"/>
<clipPath id="h6"><path d="M832.8,748.2L859.6,743L859.6,854.4L832.8,854.4Z"/></clipPath>
<g clip-path="url(#h6)">
<path class="hl" d="M836.9,731.93L855.5,729.4Q857.8,729.4 857.6,731.7T855.5,734L836.9,736.53Q834.6,736.53 834.8,734.23T836.9,731.93ZM836.9,736.53V740.18M855.5,734V737.65M836.9,740.18L855.5,737.65Q857.8,737.65 857.6,739.95T855.5,742.25L836.9,744.78Q834.6,744.78 834.8,742.48T836.9,740.18ZM836.9,744.78V748.43M855.5,742.25V745.9M836.9,748.43L855.5,745.9Q857.8,745.9 857.6,748.2T855.5,750.5L836.9,753.03Q834.6,753.03 834.8,750.73T836.9,748.43ZM836.9,753.03V756.68M855.5,750.5V754.15M836.9,756.68L855.5,754.15Q857.8,754.15 857.6,756.45T855.5,758.75L836.9,761.28Q834.6,761.28 834.8,758.98T836.9,756.68ZM836.9,761.28V764.93M855.5,758.75V762.4M836.9,764.93L855.5,762.4Q857.8,762.4 857.6,764.7T855.5,767L836.9,769.53Q834.6,769.53 834.8,767.23T836.9,764.93ZM836.9,769.53V773.18M855.5,767V770.65M836.9,773.18L855.5,770.65Q857.8,770.65 857.6,772.95T855.5,775.25L836.9,777.78Q834.6,777.78 834.8,775.48T836.9,773.18ZM836.9,777.78V781.43M855.5,775.25V778.9M836.9,781.43L855.5,778.9Q857.8,778.9 857.6,781.2T855.5,783.5L836.9,786.03Q834.6,786.03 834.8,783.73T836.9,781.43ZM836.9,786.03V789.68M855.5,783.5V787.15M836.9,789.68L855.5,787.15Q857.8,787.15 857.6,789.45T855.5,791.75L836.9,794.28Q834.6,794.28 834.8,791.98T836.9,789.68ZM836.9,794.28V797.93M855.5,791.75V795.4M836.9,797.93L855.5,795.4Q857.8,795.4 857.6,797.7T855.5,800L836.9,802.53Q834.6,802.53 834.8,800.23T836.9,797.93ZM836.9,802.53V806.18M855.5,800V803.65M836.9,806.18L855.5,803.65Q857.8,803.65 857.6,805.95T855.5,808.25L836.9,810.78Q834.6,810.78 834.8,808.48T836.9,806.18ZM836.9,810.78V814.43M855.5,808.25V811.9M836.9,814.43L855.5,811.9Q857.8,811.9 857.6,814.2T855.5,816.5L836.9,819.03Q834.6,819.03 834.8,816.73T836.9,814.43ZM836.9,819.03V822.68M855.5,816.5V820.15M836.9,822.68L855.5,820.15Q857.8,820.15 857.6,822.45T855.5,824.75L836.9,827.28Q834.6,827.28 834.8,824.98T836.9,822.68ZM836.9,827.28V830.93M855.5,824.75V828.4M836.9,830.93L855.5,828.4Q857.8,828.4 857.6,830.7T855.5,833L836.9,835.53Q834.6,835.53 834.8,833.23T836.9,830.93ZM836.9,835.53V839.18M855.5,833V836.65M836.9,839.18L855.5,836.65Q857.8,836.65 857.6,838.95T855.5,841.25L836.9,843.78Q834.6,843.78 834.8,841.48T836.9,839.18ZM836.9,843.78V847.43M855.5,841.25V844.9M836.9,847.43L855.5,844.9Q857.8,844.9 857.6,847.2T855.5,849.5L836.9,852.03Q834.6,852.03 834.8,849.73T836.9,847.43ZM836.9,852.03V855.68M855.5,849.5V853.15M836.9,855.68L855.5,853.15Q857.8,853.15 857.6,855.45T855.5,857.75L836.9,860.28Q834.6,860.28 834.8,857.98T836.9,855.68ZM836.9,860.28V863.93M855.5,857.75V861.4M836.9,863.93L855.5,861.4Q857.8,861.4 857.6,863.7T855.5,866L836.9,868.53Q834.6,868.53 834.8,866.23T836.9,863.93ZM836.9,868.53V872.18M855.5,866V869.65"/>
</g>
<path class="hl" d="M835.85,748.2L856.55,743"/>
<path class="o" d="M827,528.4H865.6L863.6,573Q863.5,574.6 862,574.6H830.6Q829.2,574.6 829,573Z"/>
<path class="m" d="M833.6,574.6V578H858.4V574.6"/>
<path class="m" d="M833.6,854.4V881M858.6,854.4V881M833.6,854.4H858.6"/>
<path class="m" d="M827.6,881H864.6V902H827.6Z"/>
<ellipse class="m" cx="836.6" cy="891.8" rx="5.4" ry="9.2"/>
<ellipse class="m" cx="855.6" cy="891.8" rx="5.4" ry="9.2"/>
<path class="t" d="M865.6,528.4L934,528.4"/>
<path class="t" d="M864.6,902.2L934,902.2"/>
<path class="t" d="M927,528.4L927,902"/>
<path class="a" d="M927,528.4L929.7,543.1L924.3,543.1Z"/>
<path class="a" d="M927,902L924.3,887.3L929.7,887.3Z"/>
<text transform="translate(923.7 715.2) rotate(-90) scale(0.86 1)" text-anchor="middle">1200</text>
</g>
</svg>
</body></html>
